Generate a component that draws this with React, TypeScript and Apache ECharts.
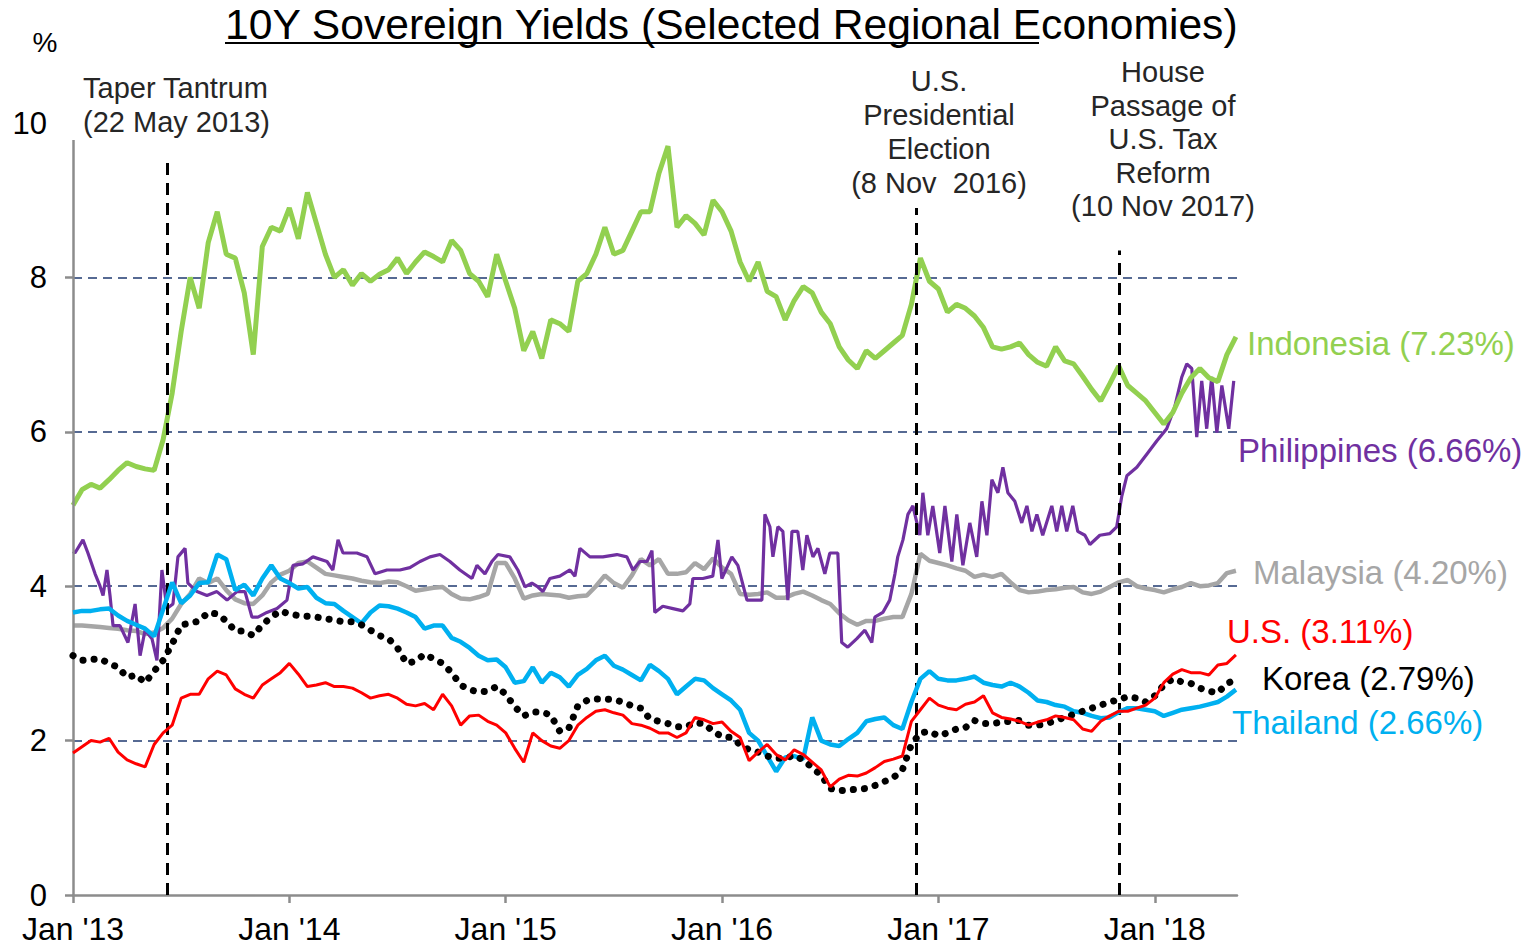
import React, { useEffect, useRef } from "react";
import * as echarts from "echarts";

// Half-monthly sample grid starting Jan 2013 (decimal years)
const START_YEAR = 2013;
const SAMPLES_PER_YEAR = 24;

const yearTicks = [2013, 2014, 2015, 2016, 2017, 2018];
const yTicks = [0, 2, 4, 6, 8];

const indonesia = [
  5.05, 5.25, 5.32, 5.27, 5.38, 5.5, 5.6, 5.55, 5.52, 5.5,
  5.9, 6.5, 7.3, 8.0, 7.6, 8.45, 8.85, 8.3, 8.25, 7.8,
  7.0, 8.4, 8.65, 8.6, 8.9, 8.5, 9.1, 8.7, 8.3, 8.0,
  8.1, 7.9, 8.05, 7.95, 8.04, 8.1, 8.25, 8.05, 8.2, 8.33,
  8.27, 8.2, 8.48, 8.35, 8.05, 7.95, 7.75, 8.3, 7.95, 7.6,
  7.05, 7.3, 6.95, 7.45, 7.4, 7.3, 7.95, 8.05, 8.3, 8.65,
  8.3, 8.35, 8.6, 8.85, 8.85, 9.35, 9.7, 8.65, 8.8, 8.7,
  8.55, 9.0, 8.85, 8.6, 8.2, 7.95, 8.2, 7.82, 7.75, 7.45,
  7.7, 7.88, 7.8, 7.55, 7.4, 7.1, 6.93, 6.82, 7.05, 6.95,
  7.05, 7.15, 7.25, 7.65, 8.25, 7.95, 7.85, 7.55, 7.65, 7.6,
  7.5, 7.35, 7.1, 7.07, 7.1, 7.15, 7.0, 6.9, 6.85, 7.1,
  6.92, 6.88, 6.72, 6.55, 6.4, 6.62, 6.85, 6.6, 6.5, 6.4,
  6.25, 6.1, 6.25, 6.5, 6.7, 6.82, 6.7, 6.65, 7.0, 7.23,
];

// Philippines is spiky, so it is read at its own (denser, irregular) dates
const philippinesT = [
  2013.0, 2013.009, 2013.046, 2013.069, 2013.102, 2013.125, 2013.139, 2013.157, 2013.171, 2013.185,
  2013.217, 2013.254, 2013.287, 2013.31, 2013.333, 2013.365, 2013.388, 2013.411, 2013.434, 2013.462,
  2013.485, 2013.518, 2013.531, 2013.573, 2013.619, 2013.665, 2013.712, 2013.758, 2013.795, 2013.827,
  2013.855, 2013.896, 2013.943, 2013.989, 2014.017, 2014.063, 2014.109, 2014.174, 2014.201, 2014.225,
  2014.248, 2014.312, 2014.359, 2014.396, 2014.451, 2014.511, 2014.557, 2014.604, 2014.65, 2014.696,
  2014.742, 2014.788, 2014.844, 2014.867, 2014.904, 2014.936, 2014.964, 2015.019, 2015.056, 2015.089,
  2015.121, 2015.149, 2015.172, 2015.204, 2015.25, 2015.297, 2015.32, 2015.343, 2015.389, 2015.449,
  2015.514, 2015.56, 2015.588, 2015.62, 2015.653, 2015.676, 2015.689, 2015.726, 2015.773, 2015.819,
  2015.851, 2015.865, 2015.911, 2015.957, 2015.981, 2015.999, 2016.045, 2016.073, 2016.115, 2016.161,
  2016.184, 2016.198, 2016.221, 2016.235, 2016.258, 2016.281, 2016.304, 2016.323, 2016.35, 2016.373,
  2016.392, 2016.42, 2016.443, 2016.475, 2016.498, 2016.535, 2016.553, 2016.581, 2016.623, 2016.66,
  2016.692, 2016.706, 2016.743, 2016.775, 2016.799, 2016.812, 2016.836, 2016.859, 2016.882, 2016.914,
  2016.928, 2016.951, 2016.974, 2017.006, 2017.03, 2017.062, 2017.085, 2017.113, 2017.145, 2017.177,
  2017.201, 2017.224, 2017.247, 2017.275, 2017.298, 2017.321, 2017.353, 2017.385, 2017.409, 2017.432,
  2017.455, 2017.482, 2017.524, 2017.547, 2017.57, 2017.593, 2017.621, 2017.644, 2017.677, 2017.7,
  2017.746, 2017.792, 2017.824, 2017.847, 2017.871, 2017.917, 2017.963, 2018.009, 2018.055, 2018.092,
  2018.125, 2018.148, 2018.171, 2018.194, 2018.217, 2018.24, 2018.263, 2018.287, 2018.31, 2018.342,
  2018.365,
];
const philippines = [
  4.45, 4.43, 4.6, 4.43, 4.16, 4.0, 3.88, 4.21, 3.88, 3.49,
  3.49, 3.27, 3.77, 3.1, 3.43, 3.32, 3.04, 4.21, 3.71, 3.77,
  4.38, 4.49, 4.04, 3.93, 3.88, 3.93, 3.82, 3.93, 3.93, 3.6,
  3.6, 3.66, 3.71, 3.82, 4.27, 4.29, 4.38, 4.32, 4.21, 4.6,
  4.43, 4.43, 4.38, 4.16, 4.21, 4.21, 4.24, 4.32, 4.38, 4.41,
  4.32, 4.21, 4.1, 4.27, 4.16, 4.32, 4.41, 4.38, 4.21, 3.99,
  4.04, 3.99, 3.93, 4.1, 4.13, 4.21, 4.13, 4.49, 4.38, 4.38,
  4.41, 4.38, 4.21, 4.32, 4.32, 4.46, 3.66, 3.74, 3.71, 3.68,
  3.77, 4.1, 4.1, 4.13, 4.6, 4.1, 4.38, 4.27, 3.82, 3.82,
  3.82, 4.93, 4.77, 4.38, 4.77, 4.71, 3.82, 4.71, 4.71, 4.21,
  4.66, 4.38, 4.49, 4.16, 4.43, 4.43, 3.27, 3.21, 3.32, 3.43,
  3.27, 3.6, 3.66, 3.82, 4.16, 4.38, 4.6, 4.93, 5.04, 4.66,
  5.21, 4.66, 5.04, 4.43, 5.04, 4.32, 4.93, 4.27, 4.82, 4.38,
  5.1, 4.66, 5.38, 5.21, 5.54, 5.21, 5.1, 4.82, 5.04, 4.71,
  4.93, 4.66, 5.04, 4.71, 5.04, 4.71, 5.04, 4.71, 4.66, 4.54,
  4.66, 4.68, 4.77, 5.16, 5.43, 5.54, 5.71, 5.88, 6.04, 6.32,
  6.71, 6.88, 6.82, 5.93, 6.66, 6.04, 6.71, 5.99, 6.6, 6.04,
  6.66,
];

const malaysia = [
  3.49, 3.49, 3.48, 3.47, 3.46, 3.45, 3.43, 3.42, 3.38, 3.4,
  3.46, 3.58, 3.77, 3.9, 4.1, 4.04, 4.1, 3.95, 3.83, 3.78,
  3.77, 3.88, 4.05, 4.15, 4.2, 4.3, 4.32, 4.24, 4.16, 4.14,
  4.12, 4.1, 4.07, 4.05, 4.04, 4.06, 4.05, 4.0, 3.94, 3.96,
  3.98, 3.99, 3.9, 3.84, 3.83, 3.86, 3.9, 4.3, 4.3, 4.1,
  3.84, 3.88, 3.9, 3.89, 3.88, 3.85, 3.87, 3.88, 4.0, 4.14,
  4.04, 3.98, 4.14, 4.35, 4.27, 4.35, 4.16, 4.16, 4.18, 4.3,
  4.22, 4.36, 4.24, 4.16, 3.9, 3.89, 3.9, 3.92, 3.85, 3.85,
  3.9, 3.93, 3.88, 3.82, 3.77, 3.65, 3.56, 3.5, 3.55, 3.55,
  3.58, 3.6, 3.6, 3.9, 4.42, 4.33, 4.3, 4.27, 4.23, 4.2,
  4.12, 4.15, 4.12, 4.16, 4.05, 3.95, 3.92, 3.93, 3.95, 3.96,
  3.98, 3.99, 3.92, 3.9, 3.93, 3.99, 4.05, 4.08, 4.0, 3.97,
  3.95, 3.92, 3.96, 3.99, 4.04, 4.0, 4.01, 4.04, 4.17, 4.2,
];

const thailand = [
  3.66, 3.68, 3.68, 3.7, 3.71, 3.62, 3.55, 3.5, 3.45, 3.35,
  3.7, 4.05, 3.78, 3.88, 4.04, 4.05, 4.41, 4.35, 3.95, 4.02,
  3.88, 4.1, 4.27, 4.1, 4.04, 3.97, 3.99, 3.85, 3.78, 3.77,
  3.68, 3.6, 3.52, 3.66, 3.75, 3.74, 3.71, 3.66, 3.6, 3.45,
  3.49, 3.49, 3.33, 3.28, 3.2, 3.1, 3.04, 3.05, 2.95, 2.75,
  2.77, 2.95, 2.75, 2.88, 2.82, 2.7, 2.85, 2.93, 3.04, 3.1,
  2.97, 2.92, 2.85, 2.78, 2.98, 2.9, 2.8, 2.6, 2.7, 2.8,
  2.78, 2.68, 2.6, 2.52, 2.4, 2.1, 2.0, 1.8, 1.6, 1.78,
  1.8, 1.76, 2.3, 2.0, 1.95, 1.93, 2.02, 2.1, 2.25, 2.28,
  2.3, 2.2, 2.15, 2.5, 2.8, 2.9, 2.8, 2.78, 2.78, 2.8,
  2.83, 2.75, 2.72, 2.7, 2.75, 2.7, 2.62, 2.52, 2.5, 2.46,
  2.44, 2.38, 2.36, 2.32, 2.29, 2.3, 2.37, 2.42, 2.42, 2.4,
  2.38, 2.32, 2.36, 2.4, 2.42, 2.44, 2.47, 2.5, 2.57, 2.66,
];

const us = [
  1.84, 1.92, 2.0, 1.98, 2.03, 1.85, 1.75, 1.7, 1.66, 1.95,
  2.1, 2.2, 2.55, 2.6, 2.6, 2.8, 2.9, 2.85, 2.67, 2.6,
  2.55, 2.72, 2.8, 2.88, 3.0, 2.86, 2.7, 2.72, 2.75, 2.7,
  2.7, 2.68, 2.62, 2.55, 2.58, 2.6, 2.55, 2.47, 2.45, 2.48,
  2.4, 2.6, 2.45, 2.2, 2.32, 2.33, 2.25, 2.2, 2.1, 1.9,
  1.72, 2.1, 2.0, 1.93, 1.9, 2.0, 2.2, 2.3, 2.38, 2.4,
  2.36, 2.33, 2.22, 2.2, 2.16, 2.1, 2.1, 2.04, 2.1, 2.3,
  2.27, 2.22, 2.24, 2.12, 2.04, 1.74, 1.85, 1.95, 1.82, 1.75,
  1.88, 1.82, 1.72, 1.62, 1.4, 1.5, 1.55, 1.54, 1.58, 1.65,
  1.73, 1.76, 1.8, 2.25, 2.4, 2.55, 2.46, 2.42, 2.4, 2.47,
  2.5, 2.58, 2.36, 2.3, 2.28, 2.25, 2.2, 2.24, 2.27, 2.32,
  2.3, 2.27, 2.15, 2.12, 2.25, 2.32, 2.38, 2.38, 2.42, 2.46,
  2.55, 2.75, 2.86, 2.92, 2.88, 2.88, 2.85, 2.98, 3.0, 3.11,
];

const korea = [
  3.1, 3.04, 3.05, 3.06, 3.0, 2.95, 2.82, 2.85, 2.75, 2.9,
  3.04, 3.25, 3.5, 3.52, 3.55, 3.66, 3.64, 3.55, 3.42, 3.42,
  3.36, 3.5, 3.6, 3.68, 3.64, 3.62, 3.61, 3.6, 3.58, 3.56,
  3.54, 3.54, 3.5, 3.43, 3.36, 3.32, 3.2, 3.0, 3.03, 3.12,
  3.06, 3.0, 2.88, 2.72, 2.66, 2.63, 2.64, 2.7, 2.6, 2.44,
  2.32, 2.37, 2.37, 2.33, 2.12, 2.16, 2.45, 2.52, 2.54, 2.54,
  2.53, 2.5, 2.45, 2.42, 2.28, 2.25, 2.22, 2.18, 2.18, 2.23,
  2.22, 2.12, 2.05, 2.04, 1.95, 1.88, 1.85, 1.8, 1.77, 1.77,
  1.81, 1.75, 1.65, 1.55, 1.38, 1.35, 1.36, 1.37, 1.38, 1.42,
  1.47, 1.52, 1.62, 1.95, 2.1, 2.12, 2.06, 2.1, 2.15, 2.17,
  2.26, 2.22, 2.22, 2.24, 2.25, 2.26, 2.2, 2.2, 2.22, 2.26,
  2.3, 2.34, 2.38, 2.42, 2.46, 2.5, 2.53, 2.57, 2.55, 2.5,
  2.58, 2.72, 2.8, 2.76, 2.74, 2.68, 2.64, 2.62, 2.74, 2.79,
];

// Event markers (decimal-year position as drawn) and top of each dashed line
const eventX = [2013.435, 2016.896, 2017.838];
const eventTop = [9.53, 8.9, 8.35];
const eventTexts = [
  "Taper Tantrum\n(22 May 2013)",
  "U.S.\nPresidential\nElection\n(8 Nov  2016)",
  "House\nPassage of\nU.S. Tax\nReform\n(10 Nov 2017)",
];

const seriesNames = ["Indonesia", "Philippines", "Malaysia", "U.S.", "Korea", "Thailand"];
const seriesLabels = [
  "Indonesia (7.23%)",
  "Philippines (6.66%)",
  "Malaysia (4.20%)",
  "U.S. (3.11%)",
  "Korea (2.79%)",
  "Thailand (2.66%)",
];

const FONT = '"Liberation Sans", Arial, sans-serif';

function toPairs(values: number[]) {
  return values.map((v, i) => [START_YEAR + i / SAMPLES_PER_YEAR, v]);
}

function txt(
  text: string,
  x: number,
  y: number,
  size: number,
  fill: string,
  align: string,
  lineHeight?: number
) {
  return {
    type: "text",
    x,
    y,
    silent: true,
    style: {
      text,
      fill,
      fontSize: size,
      fontFamily: FONT,
      align,
      verticalAlign: "middle",
      textAlign: align,
      textVerticalAlign: "middle",
      lineHeight: lineHeight || size * 1.2,
    },
  };
}

export default function App() {
  const ref = useRef<HTMLDivElement>(null);

  useEffect(() => {
    if (!ref.current) return;
    const chart = echarts.init(ref.current, undefined, { renderer: "svg" });

    const axisGray = "#8c8c8c";

    const option: any = {
      animation: false,
      backgroundColor: "#fff",
      grid: { left: 73, right: 300, top: 123, bottom: 56, containLabel: false },
      xAxis: {
        type: "value",
        min: 2013,
        max: 2018.38,
        interval: 1,
        axisLine: { show: true, lineStyle: { color: axisGray, width: 2.5 } },
        axisTick: {
          show: true,
          length: 8,
          customValues: yearTicks,
          lineStyle: { color: axisGray, width: 2.5 },
        },
        axisLabel: {
          customValues: yearTicks,
          formatter: (v: number) => "Jan '" + String(Math.round(v)).slice(2),
          fontSize: 32,
          fontFamily: FONT,
          color: "#000",
          margin: 18,
        },
        splitLine: { show: false },
      },
      yAxis: {
        type: "value",
        min: 0,
        max: 10,
        interval: 2,
        axisLine: { show: false },
        axisTick: {
          show: true,
          length: 8,
          customValues: yTicks,
          lineStyle: { color: axisGray, width: 2.5 },
        },
        axisLabel: {
          fontSize: 31,
          fontFamily: FONT,
          color: "#000",
          margin: 26,
        },
        splitLine: {
          show: true,
          showMinLine: false,
          lineStyle: { color: "#1f3a70", width: 1.5, type: [9, 6] },
        },
      },
      series: [
        {
          name: seriesNames[2],
          type: "line",
          data: toPairs(malaysia),
          showSymbol: false,
          symbol: "none",
          lineStyle: { color: "#a6a6a6", width: 4.5 },
          z: 2,
        },
        {
          name: seriesNames[1],
          type: "line",
          data: philippinesT.map((t, i) => [t, philippines[i]]),
          showSymbol: false,
          symbol: "none",
          lineStyle: { color: "#7030a0", width: 3.2 },
          z: 3,
        },
        {
          name: seriesNames[0],
          type: "line",
          data: toPairs(indonesia),
          showSymbol: false,
          symbol: "none",
          lineStyle: { color: "#92d050", width: 5 },
          z: 4,
          markLine: {
            silent: true,
            symbol: "none",
            label: { show: false },
            lineStyle: { color: "#000", width: 3, type: [12, 8] },
            data: [
              ...eventX.map((x, k) => [{ coord: [x, 0] }, { coord: [x, eventTop[k]] }]),
              [
                { coord: [2013, 0], lineStyle: { color: axisGray, width: 2.5, type: "solid" } },
                { coord: [2013, 9.78] },
              ],
            ],
          },
        },
        {
          name: seriesNames[5],
          type: "line",
          data: toPairs(thailand),
          showSymbol: false,
          symbol: "none",
          lineStyle: { color: "#00b0f0", width: 4.5 },
          z: 5,
        },
        {
          name: seriesNames[4],
          type: "line",
          data: toPairs(korea),
          showSymbol: false,
          symbol: "none",
          lineStyle: { color: "#000", width: 7, type: [0.1, 11], cap: "round" },
          z: 6,
        },
        {
          name: seriesNames[3],
          type: "line",
          data: toPairs(us),
          showSymbol: false,
          symbol: "none",
          lineStyle: { color: "#ff0000", width: 3 },
          z: 7,
        },
      ],
      graphic: [
        {
          type: "text",
          x: 225,
          y: 24,
          silent: true,
          style: {
            text: "10Y Sovereign Yields (Selected Regional Economies)",
            fill: "#000",
            fontSize: 42.6,
            fontFamily: FONT,
            align: "left",
            verticalAlign: "middle",
            textAlign: "left",
            textVerticalAlign: "middle",
          },
        },
        {
          type: "line",
          silent: true,
          shape: { x1: 225, y1: 43, x2: 1039, y2: 43 },
          style: { stroke: "#000", lineWidth: 2 },
        },
        txt("%", 45, 42, 28, "#000", "center"),
        txt(eventTexts[0], 83, 105, 29, "#262626", "left", 34),
        txt(eventTexts[1], 939, 132, 29, "#262626", "center", 33.7),
        txt(eventTexts[2], 1163, 139, 29, "#262626", "center", 33.5),
        txt(seriesLabels[0], 1247, 343, 33, "#92d050", "left"),
        txt(seriesLabels[1], 1238, 450, 33, "#7030a0", "left"),
        txt(seriesLabels[2], 1253, 572, 33, "#a6a6a6", "left"),
        txt(seriesLabels[3], 1227, 631, 33, "#ff0000", "left"),
        txt(seriesLabels[4], 1262, 678, 33, "#000000", "left"),
        txt(seriesLabels[5], 1232, 722, 33, "#00b0f0", "left"),
      ],
    };

    chart.setOption(option);
    return () => {
      chart.dispose();
    };
  }, []);

  return (
    <div
      ref={ref}
      style={{ position: "fixed", left: 0, top: 0, width: 1537, height: 951, background: "#fff" }}
    />
  );
}
